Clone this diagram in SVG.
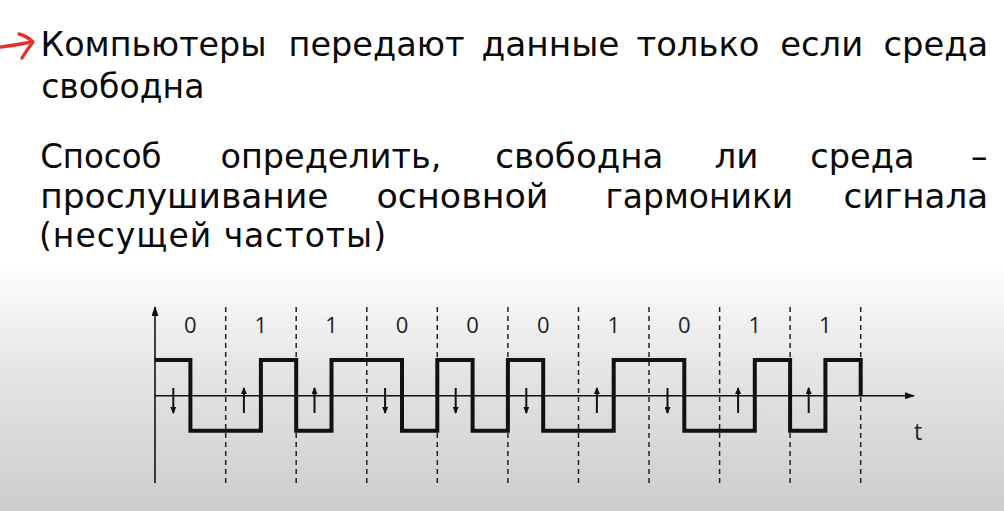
<svg xmlns="http://www.w3.org/2000/svg" width="1004" height="511" viewBox="0 0 1004 511">
  <defs>
    <linearGradient id="bg" x1="0" y1="0" x2="0" y2="1">
      <stop offset="0" stop-color="#ffffff"/>
      <stop offset="0.45" stop-color="#e4e4e4"/>
      <stop offset="1" stop-color="#cdcdcd"/>
    </linearGradient>
    <marker id="ah" markerUnits="userSpaceOnUse" markerWidth="7" markerHeight="6" refX="6" refY="3" orient="auto">
      <path d="M0,0 L7,3 L0,6 z" fill="#111"/>
    </marker>
    <marker id="axh" markerUnits="userSpaceOnUse" markerWidth="10" markerHeight="7" refX="9" refY="3.5" orient="auto">
      <path d="M0,0 L10,3.5 L0,7 z" fill="#111"/>
    </marker>
    <style>
      .t { font-family: "DejaVu Sans", Verdana, sans-serif; font-size: 33px; fill: #0a0a0a; }
      .bit { font-family: "Open Sans", "DejaVu Sans", sans-serif; font-size: 22px; fill: #222; text-anchor: middle; }
      .dash { stroke: #222; stroke-width: 1.5; stroke-dasharray: 5 4; fill: none; }
      .axis { stroke: #111; stroke-width: 1.6; fill: none; }
      .wave { stroke: #111; stroke-width: 4; fill: none; stroke-linejoin: miter; }
      .arr { stroke: #111; stroke-width: 2; fill: none; }
    </style>
  </defs>

  <rect x="0" y="0" width="1004" height="511" fill="#ffffff"/>
  <rect x="0" y="262" width="1004" height="249" fill="url(#bg)"/>

  <g id="bullet-arrow" fill="none" stroke="#e8302a" stroke-width="3.4" stroke-linecap="round" stroke-linejoin="round">
    <path d="M1,47 Q16,45 32,42"/>
    <path d="M19,34 C26,36 30,39 33,42 C29,47 25,53 22,58"/>
  </g>

  <g id="text-block">
    <text class="t" x="40.5" y="55.7" textLength="226" lengthAdjust="spacingAndGlyphs">Компьютеры</text>
    <text class="t" x="288.5" y="55.7" textLength="176" lengthAdjust="spacingAndGlyphs">передают</text>
    <text class="t" x="481.5" y="55.7" textLength="138" lengthAdjust="spacingAndGlyphs">данные</text>
    <text class="t" x="636.5" y="55.7" textLength="123" lengthAdjust="spacingAndGlyphs">только</text>
    <text class="t" x="780.2" y="55.7" textLength="83" lengthAdjust="spacingAndGlyphs">если</text>
    <text class="t" x="883.5" y="55.7" textLength="104.7" lengthAdjust="spacingAndGlyphs">среда</text>
    <text class="t" x="41.2" y="97.7" textLength="163.3" lengthAdjust="spacingAndGlyphs">свободна</text>

    <text class="t" x="40.2" y="168" textLength="121.3" lengthAdjust="spacingAndGlyphs">Способ</text>
    <text class="t" x="220.5" y="168" textLength="221" lengthAdjust="spacingAndGlyphs">определить,</text>
    <text class="t" x="495.2" y="168" textLength="168.3" lengthAdjust="spacingAndGlyphs">свободна</text>
    <text class="t" x="714.5" y="168" textLength="44" lengthAdjust="spacingAndGlyphs">ли</text>
    <text class="t" x="810.2" y="168" textLength="104.3" lengthAdjust="spacingAndGlyphs">среда</text>
    <text class="t" x="987.5" y="168" text-anchor="end">–</text>

    <text class="t" x="40.2" y="207.5" textLength="288.3" lengthAdjust="spacingAndGlyphs">прослушивание</text>
    <text class="t" x="376.5" y="207.5" textLength="172" lengthAdjust="spacingAndGlyphs">основной</text>
    <text class="t" x="605.5" y="207.5" textLength="187.7" lengthAdjust="spacingAndGlyphs">гармоники</text>
    <text class="t" x="843.5" y="207.5" textLength="144.7" lengthAdjust="spacingAndGlyphs">сигнала</text>

    <text class="t" x="39" y="247" textLength="347" lengthAdjust="spacing">(несущей частоты)</text>
  </g>

  <g id="grid">
    <line class="dash" x1="225.7" y1="307" x2="225.7" y2="483"/>
    <line class="dash" x1="296.2" y1="307" x2="296.2" y2="483"/>
    <line class="dash" x1="366.8" y1="307" x2="366.8" y2="483"/>
    <line class="dash" x1="437.3" y1="307" x2="437.3" y2="483"/>
    <line class="dash" x1="507.9" y1="307" x2="507.9" y2="483"/>
    <line class="dash" x1="578.5" y1="307" x2="578.5" y2="483"/>
    <line class="dash" x1="649.0" y1="307" x2="649.0" y2="483"/>
    <line class="dash" x1="719.6" y1="307" x2="719.6" y2="483"/>
    <line class="dash" x1="790.1" y1="307" x2="790.1" y2="483"/>
    <line class="dash" x1="860.7" y1="307" x2="860.7" y2="483"/>
  </g>

  <g id="axes">
    <line class="axis" x1="155" y1="483" x2="155" y2="307" marker-end="url(#axh)"/>
    <line class="axis" x1="155" y1="395.7" x2="914" y2="395.7" marker-end="url(#axh)"/>
    <text class="bit" x="918" y="440" style="font-size:23px">t</text>
  </g>

  <g id="bits">
    <text class="bit" x="190.4" y="333">0</text>
    <text class="bit" x="260.9" y="333">1</text>
    <text class="bit" x="331.5" y="333">1</text>
    <text class="bit" x="402.0" y="333">0</text>
    <text class="bit" x="472.6" y="333">0</text>
    <text class="bit" x="543.2" y="333">0</text>
    <text class="bit" x="613.7" y="333">1</text>
    <text class="bit" x="684.3" y="333">0</text>
    <text class="bit" x="754.8" y="333">1</text>
    <text class="bit" x="825.4" y="333">1</text>
  </g>

  <g id="waveform">
    <path class="wave" d="M155,360 H190.4 V430.7 H260.9 V360 H296.2 V430.7 H331.5 V360 H402.0 V430.7 H437.3 V360 H472.6 V430.7 H507.9 V360 H543.2 V430.7 H613.7 V360 H684.3 V430.7 H754.8 V360 H790.1 V430.7 H825.4 V360 H860.7 V395.7"/>
  </g>

  <g id="transition-arrows">
    <line class="arr" x1="173.3" y1="388" x2="173.3" y2="413" marker-end="url(#ah)"/>
    <line class="arr" x1="243.9" y1="413" x2="243.9" y2="388" marker-end="url(#ah)"/>
    <line class="arr" x1="314.5" y1="413" x2="314.5" y2="388" marker-end="url(#ah)"/>
    <line class="arr" x1="385.1" y1="388" x2="385.1" y2="413" marker-end="url(#ah)"/>
    <line class="arr" x1="455.7" y1="388" x2="455.7" y2="413" marker-end="url(#ah)"/>
    <line class="arr" x1="526.3" y1="388" x2="526.3" y2="413" marker-end="url(#ah)"/>
    <line class="arr" x1="596.9" y1="413" x2="596.9" y2="388" marker-end="url(#ah)"/>
    <line class="arr" x1="667.5" y1="388" x2="667.5" y2="413" marker-end="url(#ah)"/>
    <line class="arr" x1="738.1" y1="413" x2="738.1" y2="388" marker-end="url(#ah)"/>
    <line class="arr" x1="808.7" y1="413" x2="808.7" y2="388" marker-end="url(#ah)"/>
  </g>
</svg>
